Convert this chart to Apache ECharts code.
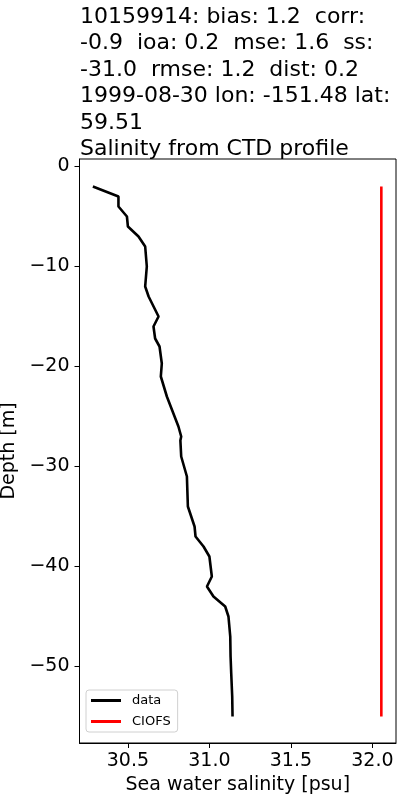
<!DOCTYPE html>
<html>
<head>
<meta charset="utf-8">
<script src="https://cdn.jsdelivr.net/npm/echarts@6/dist/echarts.min.js"></script>
<style>html,body{margin:0;padding:0;background:#fff}#c{width:400px;height:800px}</style>
</head>
<body>
<div id="c"></div>
<script>
const titleLines = [
  '10159914: bias: 1.2  corr:',
  '-0.9  ioa: 0.2  mse: 1.6  ss:',
  '-31.0  rmse: 1.2  dist: 0.2',
  '1999-08-30 lon: -151.48 lat:',
  '59.51',
  'Salinity from CTD profile'
];
const dataDepth = [-2, -3, -4, -5, -6, -7, -8, -10, -12, -13, -15, -16, -17.2, -18, -19.7, -21, -23, -26, -27, -27.4, -29, -31, -34, -36, -37, -38, -39, -41, -42, -43, -44, -45, -47, -49, -50.7, -53, -55];
const dataSalinity = [30.285, 30.442, 30.442, 30.494, 30.5, 30.565, 30.606, 30.616, 30.606, 30.627, 30.688, 30.657, 30.667, 30.694, 30.708, 30.702, 30.739, 30.81, 30.827, 30.822, 30.827, 30.862, 30.868, 30.909, 30.915, 30.964, 31.0, 31.015, 30.985, 31.025, 31.097, 31.117, 31.128, 31.13, 31.134, 31.14, 31.142];
const ciofsDepth = [-2, -55];
const ciofsSalinity = [32.055, 32.055];
const xTicks = [30.5, 31.0, 31.5, 32.0];
const yTicks = [0, -10, -20, -30, -40, -50];
const seriesNames = ['data', 'CIOFS'];

const FONT = 'DejaVu Sans';
const chart = echarts.init(document.getElementById('c'), null, {renderer: 'canvas'});
chart.setOption({
  animation: false,
  backgroundColor: '#fff',
  title: {
    text: titleLines.join('\n'),
    left: 80, top: 4, padding: 0,
    textStyle: {fontFamily: FONT, fontSize: 22, fontWeight: 'normal', color: '#000', lineHeight: 26.4}
  },
  grid: {left: 79.5, right: 4, top: 159, bottom: 57, show: true, borderColor: '#000', borderWidth: 1, backgroundColor: 'transparent', containLabel: false, outerBoundsMode: 'none'},
  legend: {
    data: seriesNames,
    orient: 'vertical',
    left: 86, top: 690,
    icon: 'rect',
    itemWidth: 30, itemHeight: 3,
    itemGap: 8,
    backgroundColor: '#fff',
    borderColor: '#d0d0d0', borderWidth: 1, borderRadius: 3,
    padding: [4, 7, 4, 5],
    textStyle: {fontFamily: FONT, fontSize: 13, color: '#000', padding: [0, 0, 0, 6]}
  },
  xAxis: {
    type: 'value', min: 30.203, max: 32.145,
    name: 'Sea water salinity [psu]', nameLocation: 'middle', nameGap: 33,
    nameTextStyle: {fontFamily: FONT, fontSize: 19, color: '#000'},
    axisLine: {show: true, onZero: false, lineStyle: {color: '#000', width: 1}},
    axisTick: {show: true, length: 5, customValues: xTicks, lineStyle: {color: '#000'}},
    axisLabel: {customValues: xTicks, margin: 9, fontFamily: FONT, fontSize: 19, color: '#000', formatter: v => v.toFixed(1)},
    splitLine: {show: false}
  },
  yAxis: {
    type: 'value', min: -57.65, max: 0.75,
    name: 'Depth [m]', nameLocation: 'middle', nameGap: 56, nameRotate: 90,
    nameTextStyle: {fontFamily: FONT, fontSize: 19, color: '#000'},
    axisLine: {show: true, onZero: false, lineStyle: {color: '#000', width: 1}},
    axisTick: {show: true, length: 5, customValues: yTicks, lineStyle: {color: '#000'}},
    axisLabel: {customValues: yTicks, margin: 10, fontFamily: FONT, fontSize: 19, color: '#000', formatter: v => String(v).replace('-', '\u2212')},
    splitLine: {show: false}
  },
  series: [
    {
      name: seriesNames[0], type: 'line', symbol: 'none',
      data: dataSalinity.map((s, i) => [s, dataDepth[i]]),
      lineStyle: {color: '#000', width: 2.6}, itemStyle: {color: '#000'}
    },
    {
      name: seriesNames[1], type: 'line', symbol: 'none',
      data: ciofsSalinity.map((s, i) => [s, ciofsDepth[i]]),
      lineStyle: {color: '#ff0000', width: 2.6}, itemStyle: {color: '#ff0000'}
    }
  ]
});
</script>
</body>
</html>
